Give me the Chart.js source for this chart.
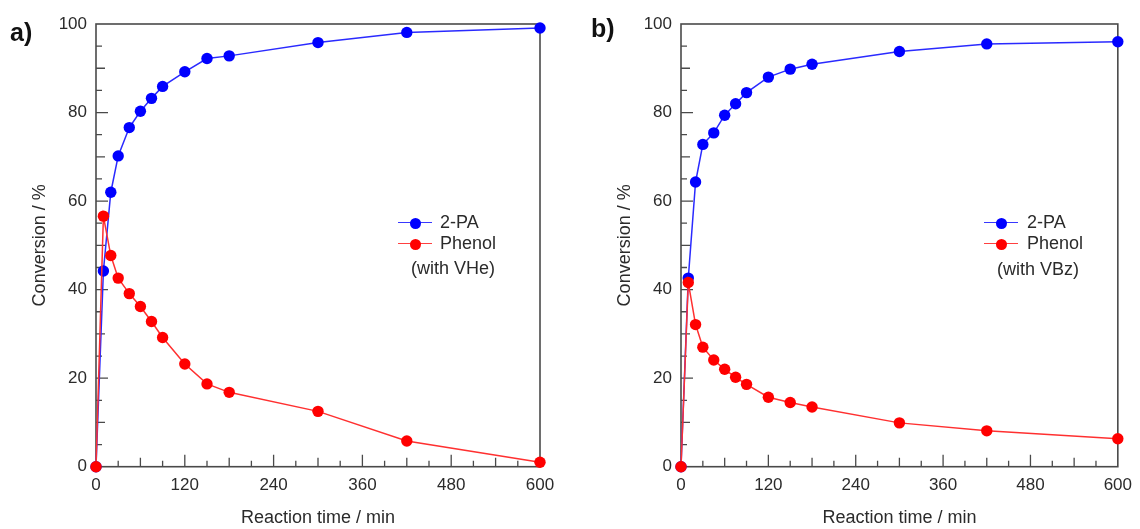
<!DOCTYPE html>
<html>
<head>
<meta charset="utf-8">
<script src="https://cdn.jsdelivr.net/npm/chart.js@4.4.1/dist/chart.umd.min.js"></script>
<style>
  body { margin: 0; background: #fff; }
  #wrap { position: relative; width: 1140px; height: 529px; font-family: "Liberation Sans", Arial, sans-serif; color: #2b2b2b; }
  canvas { position: absolute; top: 0; }
  .panel { position: absolute; font-weight: bold; font-size: 25px; color: #111; line-height: 28px; }
  .txt { position: absolute; font-size: 18px; line-height: 20px; white-space: nowrap; }
  .key { position: absolute; width: 34px; height: 0; }
  .key i { position: absolute; left: 11.5px; top: -5.5px; width: 11px; height: 11px; border-radius: 50%; }
</style>
</head>
<body>
<div id="wrap">
  <canvas id="chartA" width="570" height="529" style="left:0"></canvas>
  <canvas id="chartB" width="570" height="529" style="left:570px"></canvas>

  <div class="panel" style="left:10px; top:18px">a)</div>
  <div class="panel" style="left:591px; top:14px">b)</div>

  <div class="key" style="left:398px; top:222px; border-top:1.5px solid #3838ff"><i style="background:#0000ff"></i></div>
  <div class="txt" style="left:440px; top:212px">2-PA</div>
  <div class="key" style="left:398px; top:243px; border-top:1.5px solid #ff4040"><i style="background:#ff0000"></i></div>
  <div class="txt" style="left:440px; top:233px">Phenol</div>
  <div class="txt" style="left:411px; top:258px">(with VHe)</div>

  <div class="key" style="left:984px; top:222px; border-top:1.5px solid #3838ff"><i style="background:#0000ff"></i></div>
  <div class="txt" style="left:1027px; top:212px">2-PA</div>
  <div class="key" style="left:984px; top:243px; border-top:1.5px solid #ff4040"><i style="background:#ff0000"></i></div>
  <div class="txt" style="left:1027px; top:233px">Phenol</div>
  <div class="txt" style="left:997px; top:259px">(with VBz)</div>
</div>

<script>
// ---------------- Data ----------------
const times = [0, 10, 20, 30, 45, 60, 75, 90, 120, 150, 180, 300, 420, 600];

// a) with VHe
const paA     = [0, 44.2, 62.0, 70.2, 76.6, 80.3, 83.2, 85.9, 89.2, 92.2, 92.8, 95.8, 98.1, 99.1];
const phenolA = [0, 56.6, 47.7, 42.6, 39.1, 36.2, 32.8, 29.2, 23.2, 18.7, 16.8, 12.5, 5.8, 1.0];

// b) with VBz
const paB     = [0, 42.6, 64.3, 72.8, 75.4, 79.4, 82.0, 84.5, 88.0, 89.8, 90.9, 93.8, 95.5, 96.0];
const phenolB = [0, 41.6, 32.1, 27.0, 24.1, 22.0, 20.2, 18.6, 15.7, 14.5, 13.5, 9.9, 8.1, 6.3];

const xTicks = [0, 120, 240, 360, 480, 600];
const yTicks = [0, 20, 40, 60, 80, 100];
const xTitle = 'Reaction time / min';
const yTitle = 'Conversion / %';

const FONT = '"Liberation Sans", Arial, sans-serif';

function pts(vals){ return times.map((t,i)=>({x:t, y:vals[i]})); }

// frame + inward ticks (major / mid / minor)
const framePlugin = {
  id: 'frame',
  beforeDatasetsDraw(chart){
    const {ctx, chartArea:a, scales:{x, y}} = chart;
    ctx.save();
    ctx.strokeStyle = '#4a4a4a';
    ctx.lineWidth = 1.6;
    ctx.strokeRect(a.left, a.top, a.right-a.left, a.bottom-a.top);
    ctx.lineWidth = 1.3;
    ctx.beginPath();
    for(let v=30; v<600; v+=30){
      const len = v%120===0 ? 12 : (v%60===0 ? 9 : 6);
      const px = x.getPixelForValue(v);
      ctx.moveTo(px, a.bottom); ctx.lineTo(px, a.bottom-len);
    }
    for(let v=5; v<100; v+=5){
      const len = v%20===0 ? 12 : (v%10===0 ? 9 : 6);
      const py = y.getPixelForValue(v);
      ctx.moveTo(a.left, py); ctx.lineTo(a.left+len, py);
    }
    ctx.stroke();
    ctx.restore();
  }
};

function makeChart(id, pa, phenol, axisW, rightPad, titlePad){
  return new Chart(document.getElementById(id), {
    type: 'line',
    data: {
      datasets: [
        {label:'2-PA', data:pts(pa), borderColor:'#2a2aff', backgroundColor:'#0000ff',
         borderWidth:1.5, pointRadius:5.7, pointBorderWidth:0, pointHoverRadius:5.7, order:1, clip:false},
        {label:'Phenol', data:pts(phenol), borderColor:'#ff3030', backgroundColor:'#ff0000',
         borderWidth:1.5, pointRadius:5.7, pointBorderWidth:0, pointHoverRadius:5.7, order:0, clip:false}
      ]
    },
    options: {
      responsive: false,
      animation: false,
      layout: {padding: {top:24, right:rightPad, bottom:0, left:0}},
      plugins: {legend:{display:false}, tooltip:{enabled:false}},
      scales: {
        x: {
          type:'linear', min:0, max:600,
          afterBuildTicks: s => { s.ticks = xTicks.map(v=>({value:v})); },
          afterFit: s => { s.height = 62.3; },
          grid:{display:false, drawTicks:false}, border:{display:false},
          ticks:{padding:8, color:'#2b2b2b', font:{family:FONT, size:17}, maxRotation:0},
          title:{display:true, text:xTitle, color:'#2b2b2b', padding:{top:0, bottom:0}, font:{family:FONT, size:18}}
        },
        y: {
          type:'linear', min:0, max:100,
          afterBuildTicks: s => { s.ticks = yTicks.map(v=>({value:v})); },
          afterFit: s => { s.width = axisW; },
          grid:{display:false, drawTicks:false}, border:{display:false},
          ticks:{padding:9, color:'#2b2b2b', font:{family:FONT, size:17}},
          title:{display:true, text:yTitle, color:'#2b2b2b', padding:{top:titlePad, bottom:0}, font:{family:FONT, size:18}}
        }
      }
    },
    plugins: [framePlugin]
  });
}

makeChart('chartA', paA, phenolA, 96, 30, 29);
makeChart('chartB', paB, phenolB, 111, 15, 44);
</script>
</body>
</html>
